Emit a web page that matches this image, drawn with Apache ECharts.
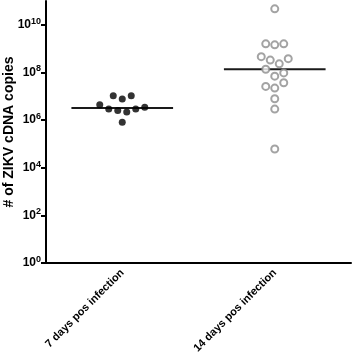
<!DOCTYPE html>
<html>
<head>
<meta charset="utf-8">
<script src="https://cdn.jsdelivr.net/npm/echarts@6/dist/echarts.min.js"></script>
<style>
  html, body { margin: 0; padding: 0; background: #fff; }
  #chart { width: 353px; height: 357px; }
</style>
</head>
<body>
<div id="chart"></div>
<script>
// Groupes (axe des x)
const categories = ['7 days pos infection', '14 days pos infection'];

// Copies d'ADNc ZIKV (échelle linéaire)
const day7Copies = [1.06e7, 7.7e6, 1.06e7, 4.4e6, 2.9e6, 2.5e6, 2.2e6, 2.9e6, 3.5e6, 8.1e5];
// Décalage horizontal de chaque point dans le nuage (en pas de symbole)
const day7Jitter = [-1, 0, 1, -2.5, -1.5, -0.5, 0.5, 1.5, 2.5, 0];

const day14Copies = [4.7e10, 1.59e9, 1.44e9, 1.59e9, 4.6e8, 3.3e8, 2.3e8, 3.8e8, 1.37e8,
                     7.0e7, 9.6e7, 3.7e7, 2.6e7, 2.2e7, 7.9e6, 2.9e6, 6.1e4];
const day14Jitter = [0, -1, 0, 1, -1.5, -0.5, 0.5, 1.5, -1, 0, 1, 1, -1, 0, 0, 0, 0];

// Graduations de l'axe des y (puissances de 10)
const yTickExponents = [0, 2, 4, 6, 8, 10];

const FONT = 'Liberation Sans, Arial, sans-serif';
const JITTER_STEP = 0.059;   // largeur d'un pas en unités de catégorie
const MEDIAN_HALF = 1 / 3;   // demi-longueur du trait de médiane

function median(values) {
    const s = values.slice().sort((a, b) => a - b);
    const m = Math.floor(s.length / 2);
    return s.length % 2 ? s[m] : (s[m - 1] + s[m]) / 2;
}

function swarm(values, jitter, index) {
    return values.map((v, i) => [index + jitter[i] * JITTER_STEP, v]);
}

function medianLine(values, index) {
    const m = median(values);
    return [[index - MEDIAN_HALF, m], [index + MEDIAN_HALF, m]];
}

const chart = echarts.init(document.getElementById('chart'));

chart.setOption({
    animation: false,
    grid: { left: 46, right: 2, top: 1, bottom: 94, containLabel: false, outerBoundsMode: 'none' },
    xAxis: [
        {
            type: 'category',
            data: categories,
            boundaryGap: true,
            axisLine: { onZero: false, lineStyle: { color: '#000', width: 2 } },
            axisTick: { alignWithLabel: true, length: 5, lineStyle: { color: '#000', width: 2 } },
            axisLabel: {
                rotate: 45,
                margin: 8,
                color: '#000',
                fontFamily: FONT,
                fontWeight: 'bold',
                fontSize: 11
            },
            splitLine: { show: false }
        },
        {
            type: 'value',
            min: -0.5,
            max: 1.5,
            show: false
        }
    ],
    yAxis: {
        type: 'log',
        logBase: 10,
        min: 1,
        max: 1e11,
        name: '# of ZIKV cDNA copies',
        nameLocation: 'middle',
        nameGap: 30,
        nameMoveOverlap: false,
        nameTextStyle: { color: '#000', fontFamily: FONT, fontWeight: 'bold', fontSize: 14 },
        axisLine: { show: true, onZero: false, lineStyle: { color: '#000', width: 2 } },
        axisTick: {
            show: true,
            length: 5,
            lineStyle: { color: '#000', width: 2 },
            customValues: yTickExponents.map(e => Math.pow(10, e))
        },
        axisLabel: {
            margin: 5,
            customValues: yTickExponents.map(e => Math.pow(10, e)),
            formatter: v => '{b|10}{s|' + Math.round(Math.log10(v)) + '}',
            rich: {
                b: { fontFamily: FONT, fontWeight: 'bold', fontSize: 12, color: '#000', lineHeight: 16 },
                s: { fontFamily: FONT, fontWeight: 'bold', fontSize: 9, color: '#000', verticalAlign: 'top', lineHeight: 11 }
            }
        },
        splitLine: { show: false }
    },
    series: [
        {
            type: 'line',
            xAxisIndex: 1,
            data: medianLine(day7Copies, 0),
            symbol: 'none',
            lineStyle: { color: '#1a1a1a', width: 2 },
            z: 1
        },
        {
            type: 'line',
            xAxisIndex: 1,
            data: medianLine(day14Copies, 1),
            symbol: 'none',
            lineStyle: { color: '#1a1a1a', width: 2 },
            z: 1
        },
        {
            type: 'scatter',
            xAxisIndex: 1,
            data: swarm(day7Copies, day7Jitter, 0),
            symbol: 'circle',
            symbolSize: 7,
            itemStyle: { color: '#000' },
            z: 2
        },
        {
            type: 'scatter',
            xAxisIndex: 1,
            data: swarm(day14Copies, day14Jitter, 1),
            symbol: 'circle',
            symbolSize: 7,
            itemStyle: { color: '#fff', borderColor: '#8c8c8c', borderWidth: 2 },
            z: 2
        }
    ]
});
</script>
</body>
</html>
